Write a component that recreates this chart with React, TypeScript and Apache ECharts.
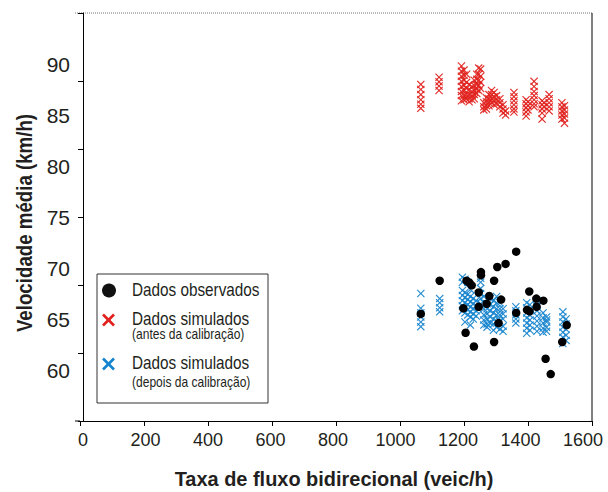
import React, { useEffect, useRef } from "react";
import * as echarts from "echarts";

const FONT = '"Liberation Sans", Arial, sans-serif';

const xTickValues = [0, 200, 400, 600, 800, 1000, 1200, 1400, 1600];
const yLabelValues = [60, 65, 70, 75, 80, 85, 90];

const observedData: number[][] = [
  [1065, 65.5], [1124, 68.75], [1363, 71.6], [1330, 70.4], [1304, 70.1],
  [1253, 69.6], [1253, 69.3], [1208, 68.75], [1217, 68.55], [1224, 68.3],
  [1294, 68.75], [1246, 67.6], [1279, 67.25], [1271, 66.5], [1316, 66.9],
  [1246, 66.2], [1198, 66.05], [1308, 64.6], [1205, 63.65], [1294, 62.75],
  [1231, 62.3], [1363, 65.6], [1404, 67.7], [1426, 67.0], [1448, 66.8],
  [1397, 65.9], [1405, 65.75], [1427, 66.2], [1455, 61.1], [1471, 59.6],
  [1521, 64.4], [1507, 62.75],
];

const simBeforeData: number[][] = [
  [1065, 88.0], [1065, 87.5], [1065, 87.0], [1065, 86.5], [1065, 86.05], [1065, 85.65],
  [1122, 88.7], [1122, 88.25], [1122, 87.85], [1122, 87.4],
  [1192, 89.8], [1192, 89.3], [1192, 88.8], [1192, 88.3], [1192, 87.8], [1192, 87.3], [1192, 86.9], [1192, 86.4],
  [1200, 89.4], [1200, 88.9], [1200, 88.4], [1200, 87.9], [1200, 87.4], [1200, 86.9], [1200, 86.5],
  [1208, 89.0], [1208, 88.2], [1208, 87.6], [1208, 87.0], [1208, 86.6],
  [1216, 88.0], [1216, 87.5], [1216, 87.0], [1216, 86.6], [1216, 86.3],
  [1225, 87.8], [1225, 87.3], [1225, 86.9], [1225, 86.5],
  [1232, 88.4], [1232, 87.9], [1232, 87.4], [1232, 87.0], [1232, 86.6],
  [1240, 89.0], [1240, 88.5], [1240, 88.0], [1240, 87.5], [1240, 87.1],
  [1246, 89.6], [1246, 89.0], [1246, 88.4], [1246, 87.9], [1246, 87.4],
  [1252, 89.5], [1252, 88.8], [1252, 88.2], [1252, 87.6],
  [1262, 86.2], [1262, 85.8], [1262, 85.5],
  [1270, 86.7], [1270, 86.3], [1270, 85.9], [1270, 85.6],
  [1278, 87.0], [1278, 86.6], [1278, 86.2], [1278, 85.9],
  [1286, 87.4], [1286, 87.0], [1286, 86.6], [1286, 86.2],
  [1294, 87.2], [1294, 86.8], [1294, 86.4], [1294, 86.0],
  [1302, 86.9], [1302, 86.5], [1302, 86.1],
  [1312, 86.6], [1312, 86.2], [1312, 85.8],
  [1322, 86.0], [1322, 85.6], [1322, 85.2],
  [1330, 85.4], [1330, 85.0],
  [1356, 87.2], [1356, 86.8], [1356, 86.4], [1356, 86.0], [1356, 85.6], [1356, 85.3],
  [1394, 86.5], [1394, 86.1], [1394, 85.7], [1394, 85.3], [1394, 84.9],
  [1400, 86.3], [1400, 85.9], [1400, 85.5],
  [1419, 88.3], [1419, 87.8], [1419, 87.3], [1419, 86.9], [1419, 86.5], [1419, 86.1], [1419, 85.8],
  [1444, 86.4], [1444, 86.0], [1444, 85.6], [1444, 85.2], [1444, 84.6],
  [1450, 86.2], [1450, 85.8],
  [1466, 87.0], [1466, 86.6], [1466, 86.2], [1466, 85.8], [1466, 85.4],
  [1506, 86.2], [1506, 85.8], [1506, 85.4], [1506, 85.0], [1506, 84.6],
  [1514, 85.9], [1514, 85.5], [1514, 85.1], [1514, 84.7], [1514, 84.2],
];

const simAfterData: number[][] = [
  [1065, 67.5], [1065, 66.05], [1065, 65.6], [1065, 65.2], [1065, 64.7], [1065, 64.25],
  [1124, 67.0], [1124, 66.6], [1124, 66.1], [1124, 65.7],
  [1195, 69.1], [1195, 68.6], [1195, 67.8], [1195, 67.3], [1195, 66.8], [1195, 66.3], [1195, 65.8],
  [1203, 68.9], [1203, 67.6], [1203, 67.1], [1203, 66.6], [1203, 66.1], [1203, 65.6], [1203, 64.7],
  [1212, 68.6], [1212, 67.4], [1212, 66.9], [1212, 66.4], [1212, 65.9], [1212, 65.4],
  [1220, 67.9], [1220, 67.2], [1220, 66.7], [1220, 66.2], [1220, 65.7], [1220, 65.2], [1220, 64.4],
  [1229, 67.0], [1229, 66.5], [1229, 66.0], [1229, 65.5], [1229, 65.0],
  [1238, 66.8], [1238, 66.3], [1238, 65.8], [1238, 65.3],
  [1252, 69.0], [1252, 68.6], [1252, 68.0], [1252, 67.5], [1252, 67.0], [1252, 66.5],
  [1262, 67.2], [1262, 66.6], [1262, 66.0], [1262, 65.4], [1262, 64.9], [1262, 64.4],
  [1272, 66.5], [1272, 66.0], [1272, 65.5], [1272, 65.0], [1272, 64.5], [1272, 64.2],
  [1282, 67.0], [1282, 66.4], [1282, 65.8], [1282, 65.2], [1282, 64.6],
  [1292, 66.8], [1292, 66.2], [1292, 65.6], [1292, 65.0], [1292, 64.5], [1292, 63.9],
  [1302, 67.2], [1302, 66.6], [1302, 66.0], [1302, 65.4], [1302, 64.8], [1302, 64.2],
  [1312, 66.6], [1312, 66.0], [1312, 65.4], [1312, 64.8], [1312, 64.0],
  [1322, 66.0], [1322, 65.5], [1322, 65.0], [1322, 64.3], [1322, 63.8],
  [1362, 66.2], [1362, 65.8], [1362, 65.4], [1362, 65.0], [1362, 64.6],
  [1396, 66.6], [1396, 66.1], [1396, 65.6], [1396, 65.1], [1396, 64.6], [1396, 64.1], [1396, 63.6],
  [1406, 66.4], [1406, 65.9], [1406, 65.4], [1406, 64.9], [1406, 64.4], [1406, 63.9],
  [1428, 66.8], [1428, 66.3], [1428, 65.8], [1428, 65.3], [1428, 64.8], [1428, 64.3], [1428, 63.8],
  [1447, 65.6], [1447, 65.1], [1447, 64.6], [1447, 64.1], [1447, 63.7],
  [1458, 65.2], [1458, 64.9], [1458, 64.7], [1458, 64.2], [1458, 63.8],
  [1509, 65.7], [1509, 65.2], [1509, 64.7], [1509, 64.2], [1509, 63.7], [1509, 63.2], [1509, 62.6],
  [1519, 65.0], [1519, 64.5], [1519, 64.0], [1519, 63.4], [1519, 62.9],
];

const X_SYMBOL =
  "path://M1,0 L5,4 L9,0 L10,1 L6,5 L10,9 L9,10 L5,6 L1,10 L0,9 L4,5 L0,1 Z";

const TEXT_COLOR = "#231f20";

function txt(text: string, x: number, y: number, size: number, bold: boolean, sx: number, extra: any = {}) {
  return {
    type: "text",
    x,
    y,
    scaleX: sx,
    rotation: extra.rotation || 0,
    style: {
      text,
      font: (bold ? "bold " : "") + size + "px " + FONT,
      fill: TEXT_COLOR,
      textAlign: extra.align || "left",
      textVerticalAlign: "middle",
    },
  };
}

export default function App() {
  const ref = useRef<HTMLDivElement>(null);

  useEffect(() => {
    if (!ref.current) return;
    const chart = echarts.init(ref.current, undefined, { renderer: "svg" });

    const option: any = {
      animation: false,
      backgroundColor: "#ffffff",
      grid: {
        left: 80,
        top: 13,
        right: 16,
        bottom: 71,
        containLabel: false,
        outerBoundsMode: "none",
      },
      xAxis: [
        {
          type: "value",
          position: "bottom",
          min: 0,
          max: 1600,
          interval: 200,
          axisLine: { show: true, lineStyle: { color: "#000", width: 1 } },
          axisTick: { show: true, inside: false, length: 5, lineStyle: { color: "#000" } },
          axisLabel: { show: false },
          splitLine: { show: false },
        },
        {
          type: "value",
          position: "bottom",
          min: -9.6,
          max: 1628.8,
          axisLine: { show: false },
          axisTick: { show: false },
          splitLine: { show: false },
          axisLabel: {
            show: true,
            customValues: xTickValues,
            fontFamily: FONT,
            fontSize: 18,
            color: TEXT_COLOR,
            margin: 10,
            formatter: (v: number) => String(v),
          },
        },
      ],
      yAxis: [
        {
          type: "value",
          position: "left",
          min: 55,
          max: 95,
          interval: 5,
          axisLine: { show: false },
          axisTick: { show: false },
          splitLine: { show: false },
          axisLabel: {
            show: true,
            fontFamily: FONT,
            fontSize: 21,
            color: TEXT_COLOR,
            margin: 10,
            formatter: (v: number) => (yLabelValues.indexOf(v) >= 0 ? String(v) : ""),
          },
        },
        {
          type: "value",
          position: "left",
          min: 0,
          max: 6,
          interval: 1,
          axisLine: { show: true, lineStyle: { color: "#000", width: 1 } },
          axisTick: { show: true, inside: false, length: 5, lineStyle: { color: "#000" } },
          axisLabel: { show: false },
          splitLine: { show: false },
        },
      ],
      series: [
        {
          name: "Dados simulados (antes da calibração)",
          type: "scatter",
          xAxisIndex: 0,
          yAxisIndex: 0,
          data: simBeforeData,
          symbol: X_SYMBOL,
          symbolSize: 8,
          itemStyle: { color: "#e0231f", opacity: 0.95 },
          z: 2,
        },
        {
          name: "Dados simulados (depois da calibração)",
          type: "scatter",
          xAxisIndex: 0,
          yAxisIndex: 0,
          data: simAfterData,
          symbol: X_SYMBOL,
          symbolSize: 8,
          itemStyle: { color: "#1a86cf", opacity: 0.95 },
          z: 2,
        },
        {
          name: "Dados observados",
          type: "scatter",
          xAxisIndex: 0,
          yAxisIndex: 0,
          data: observedData,
          symbol: "circle",
          symbolSize: 8.5,
          itemStyle: { color: "#000", opacity: 1 },
          z: 3,
        },
      ],
      graphic: [
        {
          type: "line",
          shape: { x1: 75, y1: 13, x2: 592, y2: 13 },
          style: { stroke: "#777", lineWidth: 1, lineDash: [1, 1] },
          silent: true,
        },
        {
          type: "line",
          shape: { x1: 592, y1: 13, x2: 592, y2: 421 },
          style: { stroke: "#000", lineWidth: 1 },
          silent: true,
        },
        {
          type: "line",
          shape: { x1: 75, y1: 421, x2: 80, y2: 421 },
          style: { stroke: "#000", lineWidth: 1 },
          silent: true,
        },
        txt("Taxa de fluxo bidirecional (veic/h)", 334, 478, 21, true, 0.95, { align: "center" }),
        txt("Velocidade média (km/h)", 24, 223, 22, true, 0.85, { align: "center", rotation: Math.PI / 2 }),
        {
          type: "group",
          z: 100,
          children: [
            {
              type: "rect",
              shape: { x: 97, y: 274, width: 171, height: 129 },
              style: { fill: "#fff", stroke: "#333", lineWidth: 1 },
            },
            {
              type: "circle",
              shape: { cx: 109, cy: 290.5, r: 7 },
              style: { fill: "#111" },
            },
            {
              type: "line",
              shape: { x1: 103, y1: 314.5, x2: 114, y2: 325.5 },
              style: { stroke: "#e0221e", lineWidth: 2.6 },
            },
            {
              type: "line",
              shape: { x1: 114, y1: 314.5, x2: 103, y2: 325.5 },
              style: { stroke: "#e0221e", lineWidth: 2.6 },
            },
            {
              type: "line",
              shape: { x1: 103, y1: 358.5, x2: 114, y2: 369.5 },
              style: { stroke: "#1484ce", lineWidth: 2.6 },
            },
            {
              type: "line",
              shape: { x1: 114, y1: 358.5, x2: 103, y2: 369.5 },
              style: { stroke: "#1484ce", lineWidth: 2.6 },
            },
            txt("Dados observados", 132, 290.5, 18, false, 0.85),
            txt("Dados simulados", 132, 319.5, 18, false, 0.85),
            txt("(antes da calibração)", 132, 334, 14, false, 0.86),
            txt("Dados simulados", 132, 363.5, 18, false, 0.85),
            txt("(depois da calibração)", 132, 382, 14, false, 0.86),
          ],
        },
      ],
    };

    chart.setOption(option);
    return () => {
      chart.dispose();
    };
  }, []);

  return (
    <div
      ref={ref}
      style={{ position: "absolute", left: 0, top: 0, width: 608, height: 492 }}
    />
  );
}
